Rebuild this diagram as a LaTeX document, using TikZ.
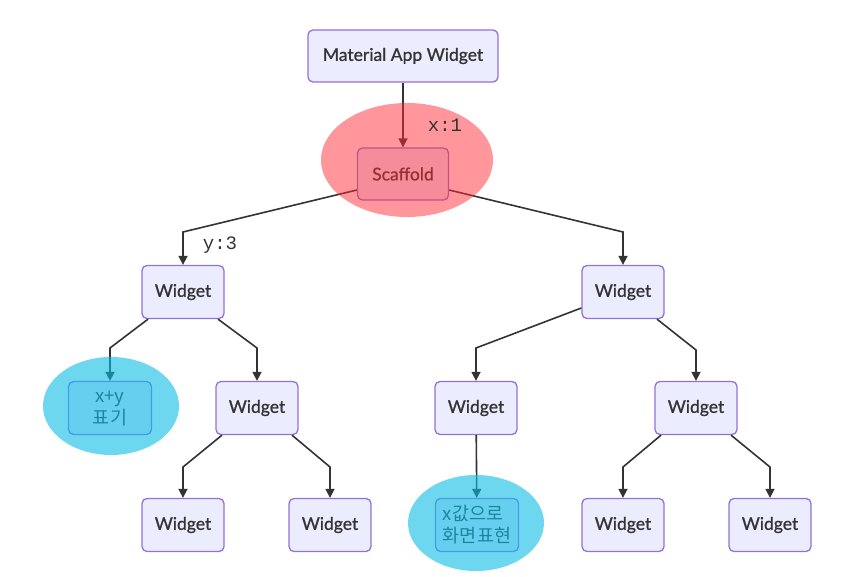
\documentclass[tikz,border=0pt]{standalone}
\usepackage{fontspec}
\setmainfont{Lato}
\newfontfamily\wfont{Lato}[FakeBold=0.9]
\newfontfamily\cjk{Noto Sans CJK KR}
\newfontfamily\tagfont{Liberation Mono}
\usetikzlibrary{arrows.meta}
\definecolor{wfill}{HTML}{ECECFF}
\definecolor{wborder}{HTML}{9370DB}
\definecolor{wtext}{HTML}{333333}
\definecolor{scafmark}{RGB}{255,45,55}
\definecolor{showmark}{RGB}{13,188,230}
\begin{document}
\begin{tikzpicture}[x=1pt,y=-1pt,
    widget/.style={draw=wborder,fill=wfill,line width=1.3pt,rounded corners=5pt,
      minimum width=82pt,minimum height=53pt,inner sep=0pt,text=wtext,
      font=\wfont\fontsize{17.5}{20}\selectfont},
    note/.style={widget,minimum width=83pt,font=\cjk\fontsize{18.5}{22}\selectfont},
    link/.style={draw=wtext,line width=1.6pt,-{Triangle[length=9pt,width=9pt]}},
    highlight/.style={fill opacity=#1},
    tag/.style={text=wtext,font=\tagfont\fontsize{19}{20}\selectfont}]
  \useasboundingbox (0,0) rectangle (851,577);
  % nodes
  \node[widget,minimum width=190pt,minimum height=52pt] (app) at (403,56) {Material App Widget};
  \node[widget,minimum width=91pt,minimum height=52pt] (scaf) at (403,174) {Scaffold};
  \node[widget] (w1) at (183,292) {Widget};
  \node[widget] (w2) at (623,292) {Widget};
  \node[note,align=center] (xy) at (110,408) {x+y\\표기};
  \node[widget] (w3) at (257,408) {Widget};
  \node[widget] (w4) at (476,408) {Widget};
  \node[widget] (w5) at (696,408) {Widget};
  \node[widget] (w6) at (183,525) {Widget};
  \node[widget] (w7) at (330,525) {Widget};
  \node[note,align=left] (xv) at (477,525) {x값으로\\화면표현};
  \node[widget] (w8) at (623,525) {Widget};
  \node[widget] (w9) at (770,525) {Widget};
  % links
  \draw[link] (app) -- (scaf);
  \draw[link] ([yshift=-16pt]scaf.west) -- (183,232) -- (w1);
  \draw[link] ([yshift=-16pt]scaf.east) -- (623,232) -- (w2);
  \draw[link] ([xshift=-35pt]w1.south) -- (110,348) -- (xy);
  \draw[link] ([xshift=35pt]w1.south) -- (257,348) -- (w3);
  \draw[link] ([yshift=-16pt]w2.west) -- (476,348) -- (w4);
  \draw[link] ([xshift=34pt]w2.south) -- (696,350) -- (w5);
  \draw[link] ([xshift=-35pt]w3.south) -- (183,467) -- (w6);
  \draw[link] ([xshift=35pt]w3.south) -- (330,467) -- (w7);
  \draw[link] (w4) -- (xv);
  \draw[link] ([xshift=-35pt]w5.south) -- (623,467) -- (w8);
  \draw[link] ([xshift=35pt]w5.south) -- (770,467) -- (w9);
  % highlights
  \fill[scafmark,highlight=0.5] (407,160) ellipse [x radius=86,y radius=57];
  \fill[showmark,highlight=0.6] (111,406) ellipse [x radius=68,y radius=49];
  \fill[showmark,highlight=0.6] (476,523) ellipse [x radius=68,y radius=48];
  \node[tag] (tx) at (445,125) {x:1};
  \node[tag] (ty) at (220,245) {y:3};
\end{tikzpicture}
\end{document}
